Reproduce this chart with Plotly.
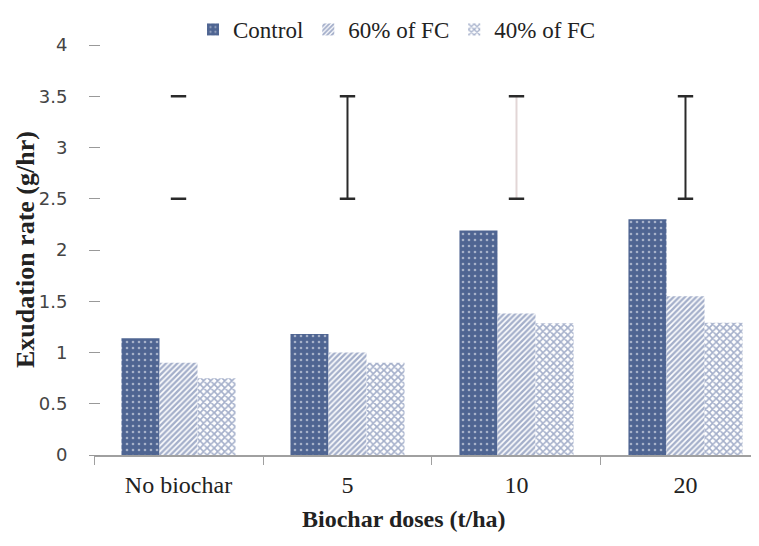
import plotly.graph_objects as go

categories = ["No biochar", "5", "10", "20"]
control = [1.14, 1.18, 2.19, 2.30]
fc60 = [0.90, 1.00, 1.38, 1.55]
fc40 = [0.75, 0.90, 1.285, 1.29]
err_center = [3.0, 3.0, 3.0, 3.0]
err_half = [0.5, 0.5, 0.5, 0.5]
stem_colors = ["white", "#2a2a2a", "#e2d6d6", "#2a2a2a"]
y_ticks = [0, 0.5, 1, 1.5, 2, 2.5, 3, 3.5, 4]

W, H = 759, 546
OFF = 8  # page body margin of the browser
PL, PR, PT, PB = 94 - OFF, W, 45 - OFF, 455 - OFF  # plot area in figure pixels

BLUE = "#4f6592"
serif = "Liberation Serif"

fig = go.Figure()
fig.add_trace(go.Bar(
    name="Control", x=categories, y=control,
    marker=dict(color=BLUE, line=dict(width=0),
                pattern=dict(shape=".", fgcolor="white", bgcolor=BLUE, size=6, solidity=0.15)),
))
fig.add_trace(go.Bar(
    name="60% of FC", x=categories, y=fc60,
    marker=dict(color="white", line=dict(width=0),
                pattern=dict(shape="/", fgcolor="#4a6096", bgcolor="white", size=4, solidity=0.6)),
))
fig.add_trace(go.Bar(
    name="40% of FC", x=categories, y=fc40,
    marker=dict(color="white", line=dict(width=0),
                pattern=dict(shape="x", fgcolor="#4a6096", bgcolor="white", size=5, solidity=0.55)),
))
for cat, c, h, col in zip(categories, err_center, err_half, stem_colors):
    fig.add_trace(go.Scatter(
        x=[cat, cat], y=[c - h, c + h], mode="lines",
        line=dict(color=col, width=2), showlegend=False, hoverinfo="skip",
    ))
fig.add_trace(go.Scatter(
    x=categories + categories,
    y=[c - h for c, h in zip(err_center, err_half)] + [c + h for c, h in zip(err_center, err_half)],
    mode="markers", showlegend=False, hoverinfo="skip",
    marker=dict(symbol="line-ew", size=11, line=dict(color="#2a2a2a", width=2.5)),
))

fig.update_layout(
    width=W, height=H,
    margin=dict(l=0, r=0, t=0, b=0),
    paper_bgcolor="white", plot_bgcolor="white",
    barmode="group", bargap=0.325, bargroupgap=0,
    legend=dict(orientation="h", x=(397 - OFF) / W, y=1.0,
                xanchor="center", yanchor="top",
                font=dict(family=serif, size=23, color="#222"),
                itemwidth=30, tracegroupgap=0),
    xaxis=dict(
        domain=[PL / W, PR / W], automargin=False,
        range=[-0.5, 3.435 + OFF / 169], showline=True, linecolor="#a0a0a0", linewidth=1.5,
        ticks="outside", tickson="boundaries", ticklen=8, tickcolor="#a0a0a0",
        tickfont=dict(family=serif, size=24, color="#222"), ticklabelstandoff=7,
        showgrid=False, zeroline=False,
    ),
    yaxis=dict(
        domain=[1 - PB / H, 1 - PT / H], automargin=False,
        anchor="free", position=(100 - OFF) / W,
        range=[0, 4], tickvals=y_ticks, ticktext=[f"{v:g}" for v in y_ticks],
        showline=False, showgrid=False, zeroline=False,
        ticks="outside", ticklen=11, tickcolor="#999",
        tickfont=dict(family="DejaVu Sans", size=18, color="#444"),
        ticklabelstandoff=18,
    ),
    annotations=[
        dict(text="<b>Biochar doses (t/ha)</b>", xref="paper", yref="paper",
             x=(404 - OFF) / W, y=1 - (519 - OFF) / H, xanchor="center", yanchor="middle",
             showarrow=False, font=dict(family=serif, size=24, color="#222")),
        dict(text="<b>Exudation rate (g/hr)</b>", xref="paper", yref="paper",
             x=(25 - OFF) / W, y=1 - (250 - OFF) / H, xanchor="center", yanchor="middle",
             textangle=-90,
             showarrow=False, font=dict(family=serif, size=26, color="#222")),
    ],
)

fig.write_html("out.html")
